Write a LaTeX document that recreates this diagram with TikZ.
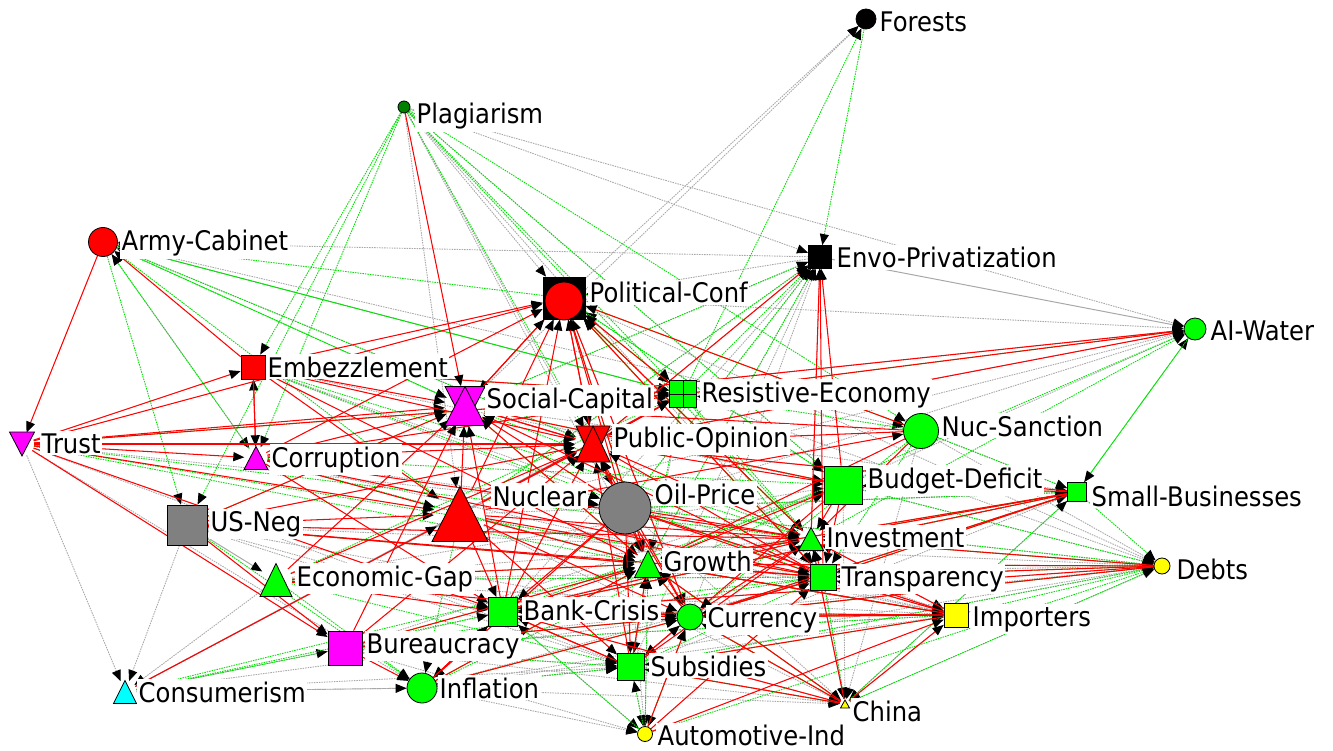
\documentclass[tikz,border=0pt]{standalone}
\usepackage{fontspec}
\setmainfont{DejaVu Sans}[FakeStretch=0.9]
\usetikzlibrary{arrows.meta,shapes.geometric}
\pgfdeclarelayer{edges}
\pgfsetlayers{edges,main}
\definecolor{gr}{HTML}{00FF00}
\definecolor{ge}{HTML}{00E000}
\definecolor{dg}{HTML}{008000}
\definecolor{ga}{HTML}{A8A8A8}
\definecolor{gn}{HTML}{808080}
\definecolor{mg}{HTML}{FF00FF}
\definecolor{cy}{HTML}{00FFFF}
\definecolor{yl}{HTML}{FFFF00}
\newcommand\uptri[5]{\draw[fill=#5,line width=0.8pt,line join=miter] ({#1-#3/2},{#2+#4/2}) -- (#1,{#2-#4/2}) -- ({#1+#3/2},{#2+#4/2}) -- cycle;}
\newcommand\dntri[5]{\draw[fill=#5,line width=0.8pt,line join=miter] ({#1-#3/2},{#2-#4/2}) -- (#1,{#2+#4/2}) -- ({#1+#3/2},{#2-#4/2}) -- cycle;}
\begin{document}
\begin{tikzpicture}[x=1pt,y=-1pt,
  circ/.style={circle,draw=black,inner sep=0pt,line width=0.8pt},
  sq/.style={rectangle,draw=black,inner sep=0pt,line width=0.8pt},
  hid/.style={circle,inner sep=0pt},
  lab/.style={fill=white,inner xsep=1.5pt,inner ysep=2pt,anchor=base west,font=\fontsize{27}{28}\selectfont},
  tip/.style={-{Triangle[color=black,fill=black,length=11pt,width=9pt]}},
  redE/.style={draw=red,line width=1.05pt,tip},
  greenE/.style={draw=ge,line width=0.9pt,dash pattern=on 1.5pt off 1pt,tip},
  grayE/.style={draw=ga,line width=0.9pt,dash pattern=on 1.5pt off 1pt,tip},
  grayS/.style={draw=ga,line width=1pt,tip}]
\useasboundingbox (0,0) rectangle (1333,751);
% ---------- nodes ----------
\node[circ,fill=black,minimum size=20pt] (For) at (866,19) {};
\node[circ,fill=dg,minimum size=12pt] (Pla) at (404,107) {};
\node[circ,fill=red,minimum size=29pt] (Arm) at (103,242) {};
\node[sq,fill=black,minimum size=23pt] (Env) at (820,257) {};
\node[sq,fill=black,minimum size=42pt] (Pol) at (564,298) {};
\node[circ,fill=red,minimum size=38pt] (PolC) at (564,301) {};
\node[circ,fill=gr,minimum size=22pt] (AIW) at (1195,329) {};
\node[sq,fill=red,minimum size=24pt] (Emb) at (253,367) {};
\node[hid,minimum size=40pt] (Soc) at (465,406) {};
\dntri{465}{406}{40}{39}{mg}\uptri{465}{406}{40}{39}{mg}
\node[sq,fill=gr,minimum size=27pt] (Res) at (683,394) {};
\draw[line width=0.8pt] (Res.north) -- (Res.south) (Res.west) -- (Res.east);
\node[hid,minimum size=36pt] (Pub) at (593,444) {};
\dntri{593}{444}{34}{36}{red}\uptri{593}{444}{34}{36}{red}
\node[circ,fill=gr,minimum size=35pt] (NS) at (921,431) {};
\node[hid,minimum size=24pt] (Tru) at (22,444) {};
\dntri{22}{444}{25}{24}{mg}
\node[hid,minimum size=23pt] (Cor) at (256,458) {};
\uptri{256}{458}{24}{23}{mg}
\node[sq,fill=gr,minimum size=38pt] (Bud) at (843,485) {};
\node[sq,fill=gr,minimum size=19pt] (SmB) at (1077,492) {};
\node[sq,fill=gn,minimum size=40pt] (USN) at (187,525) {};
\node[hid,minimum size=52pt] (Ncl) at (460,514) {};
\uptri{460}{514}{56}{55}{red}
\node[circ,fill=gn,minimum size=52pt] (Oil) at (625,508) {};
\node[hid,minimum size=23pt] (Inv) at (811,539) {};
\uptri{811}{539}{25}{23}{gr}
\node[hid,minimum size=27pt] (Gro) at (648,564) {};
\uptri{648}{564}{27}{27}{gr}
\node[hid,minimum size=32pt] (EcG) at (276,580) {};
\uptri{276}{580}{32}{33}{gr}
\node[sq,fill=gr,minimum size=26pt] (Tra) at (823,577) {};
\node[circ,fill=yl,minimum size=16pt] (Deb) at (1162,566) {};
\node[sq,fill=gr,minimum size=29pt] (Ban) at (503,612) {};
\node[circ,fill=gr,minimum size=26pt] (Cur) at (690,617) {};
\node[sq,fill=yl,minimum size=24pt] (Imp) at (956,615) {};
\node[sq,fill=mg,minimum size=34pt] (Bur) at (345,648) {};
\node[sq,fill=gr,minimum size=27pt] (Sub) at (631,667) {};
\node[hid,minimum size=23pt] (Con) at (125,692) {};
\uptri{125}{692}{23}{23}{cy}
\node[circ,fill=gr,minimum size=30pt] (Inf) at (422,688) {};
\node[hid,minimum size=10pt] (Chi) at (845,704) {};
\uptri{845}{704}{9}{8}{yl}
\node[circ,fill=yl,minimum size=15pt] (Aut) at (645,734) {};
% ---------- labels ----------
\node[lab] (lFor) at (878,32) {Forests};
\node[lab] (lPla) at (415,124) {Plagiarism};
\node[lab] (lArm) at (120,251) {Army-Cabinet};
\node[lab] (lEnv) at (835,268) {Envo-Privatization};
\node[lab] (lPol) at (588,303) {Political-Conf};
\node[lab] (lAIW) at (1209,340) {AI-Water};
\node[lab] (lEmb) at (266,377) {Embezzlement};
\node[lab] (lSoc) at (485,408) {Social-Capital};
\node[lab] (lRes) at (700,402) {Resistive-Economy};
\node[lab] (lPub) at (612,447) {Public-Opinion};
\node[lab] (lNS) at (940,436) {Nuc-Sanction};
\node[lab] (lTru) at (40,453) {Trust};
\node[lab] (lCor) at (270,467) {Corruption};
\node[lab] (lBud) at (866,488) {Budget-Deficit};
\node[lab] (lSmB) at (1090,506) {Small-Businesses};
\node[lab] (lUSN) at (209,531) {US-Neg};
\node[lab] (lNcl) at (491,506) {Nuclear};
\node[lab] (lOil) at (653,504) {Oil-Price};
\node[lab] (lInv) at (825,547) {Investment};
\node[lab] (lGro) at (662,571) {Growth};
\node[lab] (lEcG) at (295,586) {Economic-Gap};
\node[lab] (lTra) at (840,586) {Transparency};
\node[lab] (lDeb) at (1175,579) {Debts};
\node[lab] (lBan) at (522,620) {Bank-Crisis};
\node[lab] (lCur) at (706,627) {Currency};
\node[lab] (lImp) at (971,626) {Importers};
\node[lab] (lBur) at (365,653) {Bureaucracy};
\node[lab] (lSub) at (649,676) {Subsidies};
\node[lab] (lCon) at (137,702) {Consumerism};
\node[lab] (lInf) at (438,698) {Inflation};
\node[lab] (lChi) at (851,721) {China};
\node[lab,inner ysep=1pt] (lAut) at (656,745) {Automotive-Ind};
% ---------- edges ----------
\begin{pgfonlayer}{edges}
\foreach \s/\t in {Pol/For,Soc/For,Tru/Con,USN/Con,Inf/Con,Bur/Con,EcG/Con,Env/Arm,Pla/Env,Pla/AIW,Pla/Bud,Pla/Tra,Pla/Ncl,Pla/Oil,Arm/Cor,Pol/AIW,Soc/AIW,Ncl/AIW,Oil/AIW,Pub/AIW,Env/Pol,Gro/Env,Inv/Env,Sub/Env,Cur/Env,Oil/Env,Ban/Env,Gro/Deb,Inv/Deb,Cur/Deb,Bud/Deb,Ban/Deb,Sub/Deb,Oil/Deb,Ncl/SmB,Oil/SmB,Cur/SmB,Ban/SmB,Ncl/Imp,Ban/Imp,Gro/Imp,Oil/Imp,Inf/Chi,Sub/Chi,Ban/Chi,Bur/Chi,Cur/Chi,Gro/Chi,Inv/Chi,Tra/Chi,Bud/Chi,NS/Chi,Deb/Chi,Inf/Aut,Sub/Aut,Ban/Aut,Cur/Aut,Gro/Aut,Bur/Aut,Oil/Aut,USN/Ban,USN/Sub,USN/Cur,EcG/Bud,Tru/Oil,Cor/Oil,Emb/Oil,Arm/Res,Arm/NS,Arm/Pub,Pla/Pol,Pla/Gro,Soc/Env,Pub/Env,Ncl/Env,Tru/Inf,Con/Inf,EcG/Tra,Bur/Sub,Inf/Sub,Bur/Deb,Inf/Imp,Bud/AIW,NS/Deb,NS/SmB,Imp/Chi,SmB/Chi,Inv/Imp,Tra/Imp,Ncl/Chi,Oil/Chi,Cor/Gro,Emb/Bud,USN/Inv,EcG/Imp,Bur/Imp,Inf/Tra,Bur/Inv,EcG/Inv,Ban/SmB,Sub/SmB,Inf/Deb,USN/Deb,EcG/Deb,Bur/Bud,Con/Sub,Con/Cur,Tru/Sub,Cor/Imp,Emb/Imp,Soc/SmB,Pub/SmB,Res/Deb,Pol/Deb,Pol/Cur,Res/Sub}
  {\draw[grayE] (\s) -- (\t);}
\foreach \s/\t in {Env/AIW,Con/Pub,Con/Res,USN/EcG}
  {\draw[grayS] (\s) -- (\t);}
\foreach \s/\t in {Cor/Arm,Arm/USN,Soc/Arm,Pub/Arm,Res/Arm,Pol/Arm,Ncl/Arm,Pla/Emb,Pla/USN,Pla/Cor,Pla/Res,Pla/Pub,Pla/NS,Pla/Bud,Pla/Inv,For/Env,Res/For,USN/Soc,EcG/Res,EcG/Gro,Cor/Gro,Tru/Inv,Tru/Tra,Res/Env,Ncl/Env,Oil/Env,Gro/Env,Soc/Env,Inv/Pol,Tra/Pol,Bud/Pol,NS/Res,SmB/AIW,AIW/SmB,SmB/Deb,Imp/Deb,Chi/Deb,Aut/Deb,Aut/Gro,Aut/Sub,Inf/Gro,Inf/Bud,Con/Bur,Con/Gro,Con/Ban,Bur/Gro,Bur/Tra,Ban/Tra,Ban/Bud,Cur/Tra,Cur/Deb,Sub/Deb,Sub/Imp,Sub/Tra,Gro/Deb,Gro/SmB,Inv/SmB,Tra/SmB,Tra/Deb,Bud/SmB,Res/Inv,Res/Tra,Res/Gro,Pub/Gro,Soc/Gro,Soc/Inv,Soc/Bud,Pol/Res,Pol/Inv,Pol/Bud,Pol/NS,Pol/Tra,Pol/Gro,Emb/Inv,Emb/Tra,Cor/Bud,USN/Gro,USN/Inf,EcG/Inf,EcG/Sub,Ncl/Inf,Tru/Gro,Tru/Res,Emb/Res,NS/Tra,NS/Cur,Chi/SmB,Chi/Gro,Imp/Gro,Res/AIW,Gro/AIW,Inv/AIW,Aut/Ban,Aut/Cur,Inf/Sub,Sub/Gro,Cur/Gro,Arm/Soc,Arm/Res,Bur/Cur,Ban/Imp,Cur/Imp,Gro/Imp,Sub/Chi,Cur/Chi,Tra/Chi,Inv/Deb,Bud/Deb,Oil/Deb,NS/SmB,Oil/SmB,Bur/Sub,Inf/Cur,EcG/Tra,Bur/Imp,Ban/SmB,Cur/SmB}
  {\draw[greenE] (\s) -- (\t);}
\foreach \s/\t in {Arm/Tru,Emb/Arm,Cor/Emb,Emb/Cor,Tru/Cor,Tru/Soc,Tru/Pub,Tru/Ncl,Tru/Pol,Tru/Res,Tru/Ban,Tru/Emb,Tru/Bur,Emb/Soc,Emb/Pol,Emb/Pub,Emb/Ncl,Emb/Gro,Emb/Res,Cor/Soc,Cor/Pub,Cor/Ncl,Cor/Pol,Cor/Res,Cor/Inv,Cor/Tra,Cor/Ban,Pla/Soc,USN/Ncl,USN/Bur,USN/Pub,USN/Gro,USN/Inv,USN/Tra,USN/Soc,EcG/Soc,EcG/Pub,EcG/Ban,EcG/Cur,EcG/Gro,Con/Ncl,Bur/Inf,Bur/Pub,Bur/Soc,Bur/Cur,Bur/Gro,Ncl/Pol,Ncl/Pub,Ncl/Soc,Ncl/NS,Ncl/Gro,Ncl/Cur,Ncl/Ban,Ncl/Inv,Ncl/Res,Ncl/Tra,Ncl/Sub,Oil/Gro,Oil/Cur,Oil/Inv,Oil/Tra,Oil/Pol,Oil/Pub,Oil/Ban,Oil/Sub,Oil/Imp,Oil/Soc,Oil/Inf,Gro/Inv,Gro/Pub,Gro/Pol,Gro/Soc,Gro/Imp,Ban/Gro,Ban/Cur,Ban/Inv,Ban/Pub,Ban/Pol,Ban/Soc,Ban/Sub,Ban/Inf,Cur/Imp,Cur/Inv,Cur/Gro,Cur/Pub,Cur/Pol,Cur/Sub,Cur/Tra,Imp/Cur,Imp/Gro,Imp/Tra,Imp/Inv,Imp/Sub,Imp/Ban,Chi/Imp,Chi/Cur,Chi/Ban,Chi/Gro,Chi/Sub,Chi/Inv,Aut/Imp,Aut/Cur,Aut/Tra,Sub/Gro,Sub/Ban,Sub/Cur,Sub/Inv,Sub/Pub,Inf/Ban,Inf/Cur,Inf/Gro,Tra/Pol,Tra/Pub,Tra/Env,Tra/Inv,Tra/Gro,Tra/Cur,Tra/Soc,Inv/Env,Inv/Gro,Inv/Pub,Inv/Pol,Bud/Env,Bud/Pub,Bud/Inv,Bud/Cur,Bud/Gro,Bud/Soc,Bud/Tra,NS/Pub,NS/Pol,NS/Soc,NS/Gro,NS/Inv,SmB/Tra,SmB/Cur,SmB/Gro,SmB/Inv,SmB/Bud,SmB/Pub,SmB/Ban,Deb/Tra,Deb/Cur,Deb/Ban,Deb/Gro,Deb/Inv,Res/AIW,Pub/AIW,Soc/AIW,Pol/Pub,Pol/Soc,Pub/Pol,Soc/Pol,Res/Pol,Res/Pub,Pub/Res,Soc/Pub,Pub/Soc,Soc/Res,Pub/Env}
  {\draw[redE] (\s) -- (\t);}
\end{pgfonlayer}
\end{tikzpicture}
\end{document}
